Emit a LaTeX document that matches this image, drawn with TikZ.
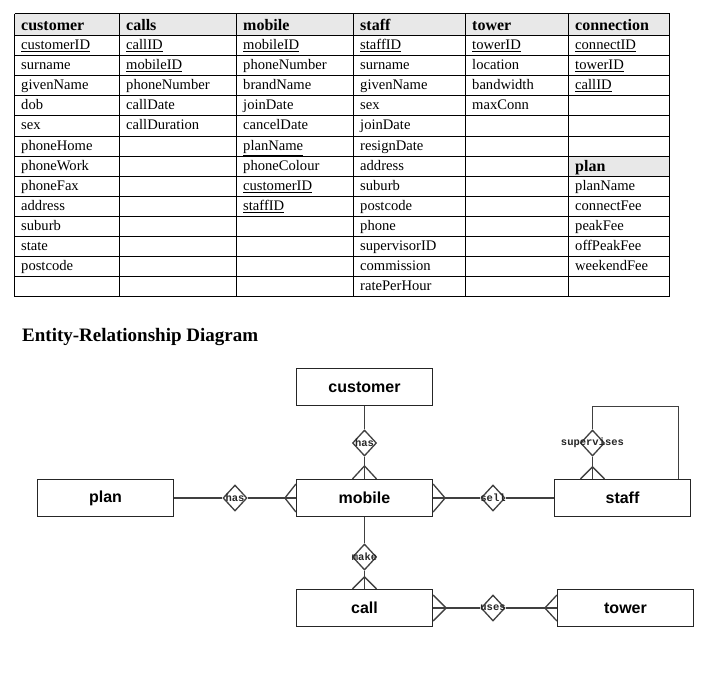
\documentclass[tikz,border=0pt]{standalone}
\usepackage{fontspec}
\setmainfont{Liberation Serif}
\newfontfamily\arialfont{Liberation Sans}
\newfontfamily\courfont{Liberation Mono}
\usetikzlibrary{shapes.geometric,calc}
\begin{document}
\begin{tikzpicture}[x=1pt,y=-1pt,
 cell/.style={anchor=base west,inner sep=0pt,font=\fontsize{14.6}{17}\selectfont},
 headcell/.style={anchor=base west,inner sep=0pt,font=\fontsize{16}{18}\selectfont\bfseries},
 tab/.style={draw=black,line width=1pt},
 entity/.style={draw=black!85,line width=1.2pt,minimum width=136pt,minimum height=37pt,inner sep=0pt,font=\arialfont\bfseries\fontsize{16}{18}\selectfont},
 rel/.style={diamond,draw=black!75,line width=1.3pt,minimum width=24pt,minimum height=26pt,inner sep=0pt,fill=white},
 rellabel/.style={font=\courfont\bfseries\fontsize{10.5}{12}\selectfont,text=black!85,inner sep=0pt},
 conn/.style={draw=black!75,line width=1.3pt}]
\fill[white] (0,0) rectangle (721,675);
\useasboundingbox (0,0) rectangle (721,675);
% ---- table ----
\fill[gray!18] (14.5,13.5) rectangle (669.5,35.5);
\fill[gray!18] (568.5,156.5) rectangle (669.5,176.5);
\foreach \x in {14.5,119.5,236.5,353.5,465.5,568.5,669.5} \draw[tab] (\x,13.5) -- (\x,296.5);
\draw[tab] (14.5,13.5) -- (669.5,13.5);
\foreach \y in {35.5,55.5,75.5,95.5,115.5,136.5,156.5,176.5,196.5,216.5,236.5,256.5,276.5,296.5}
  \draw[tab] (14.5,\y) -- (669.5,\y);
% headers
\node[headcell] (h1) at (21,30.8) {customer};
\node[headcell] (h2) at (126,30.8) {calls};
\node[headcell] (h3) at (243,30.8) {mobile};
\node[headcell] (h4) at (360,30.8) {staff};
\node[headcell] (h5) at (472,30.8) {tower};
\node[headcell] (h6) at (575,30.8) {connection};
\node[headcell] (h7) at (575,171.8) {plan};
% columns
\def\rowbase{{0,49.3,69.3,89.3,109.3,129.8,150.3,170.3,190.3,210.3,230.3,250.3,270.3,290.3}}
\foreach \t [count=\i] in {\underline{customerID},surname,givenName,dob,sex,phoneHome,phoneWork,phoneFax,address,suburb,state,postcode}
  \node[cell] (ca\i) at (21,{\rowbase[\i]}) {\t};
\foreach \t [count=\i] in {\underline{callID},\underline{mobileID},phoneNumber,callDate,callDuration}
  \node[cell] (cb\i) at (126,{\rowbase[\i]}) {\t};
\foreach \t [count=\i] in {\underline{mobileID},phoneNumber,brandName,joinDate,cancelDate,\underline{planName},phoneColour,\underline{customerID},\underline{staffID}}
  \node[cell] (cc\i) at (243,{\rowbase[\i]}) {\t};
\foreach \t [count=\i] in {\underline{staffID},surname,givenName,sex,joinDate,resignDate,address,suburb,postcode,phone,supervisorID,commission,ratePerHour}
  \node[cell] (cd\i) at (360,{\rowbase[\i]}) {\t};
\foreach \t [count=\i] in {\underline{towerID},location,bandwidth,maxConn}
  \node[cell] (ce\i) at (472,{\rowbase[\i]}) {\t};
\foreach \t [count=\i] in {\underline{connectID},\underline{towerID},\underline{callID}}
  \node[cell] (cf\i) at (575,{\rowbase[\i]}) {\t};
\foreach \t [count=\i from 8] in {planName,connectFee,peakFee,offPeakFee,weekendFee}
  \node[cell] (cg\i) at (575,{\rowbase[\i]}) {\t};
% ---- title ----
\node[anchor=base west,inner sep=0pt,font=\bfseries\fontsize{19}{22}\selectfont] (title) at (22,341) {Entity-Relationship Diagram};
% ---- ER diagram ----
\node[entity] (customer) at (364.5,387) {customer};
\node[entity] (mobile) at (364.5,498) {mobile};
\node[entity] (plan) at (105.5,498) {plan};
\node[entity] (staff) at (622.5,498) {staff};
\node[entity] (call) at (364.5,608) {call};
\node[entity] (tower) at (625.5,608) {tower};
\node[rel,label={[rellabel]center:has}] (has1) at (364.5,443) {};
\node[rel,label={[rellabel]center:has}] (has2) at (235,498) {};
\node[rel,label={[rellabel]center:sell}] (sell) at (493,498) {};
\node[rel,label={[rellabel]center:supervises}] (supervises) at (592.5,443) {};
\node[rel,label={[rellabel]center:make}] (make) at (364.5,557) {};
\node[rel,label={[rellabel]center:uses}] (uses) at (493,608) {};
\coordinate (loopR) at (678.5,406.5);
\coordinate (sN) at (supervises |- staff.north);
\draw[conn] (customer) -- (has1) -- (mobile);
\draw[conn] (plan) -- (has2) -- (mobile);
\draw[conn] (mobile.east) -- (sell) -- (sell -| staff.west);
\draw[conn] (supervises) -- (sN);
\draw[conn] (supervises.north) |- (loopR) -- (loopR |- staff.north);
\draw[conn] (mobile) -- (make) -- (call);
\draw[conn] (call.east) -- (uses) -- (uses -| tower.west);
% crow's feet
\draw[conn] ($(mobile.north)+(-12,0)$) -- ($(mobile.north)+(0,-13)$) -- ($(mobile.north)+(12,0)$);
\draw[conn] ($(mobile.west)+(0,-14)$) -- ($(mobile.west)+(-11,0)$) -- ($(mobile.west)+(0,14)$);
\draw[conn] ($(mobile.east)+(0,-14)$) -- ($(mobile.east)+(12,0)$) -- ($(mobile.east)+(0,14)$);
\draw[conn] ($(sN)+(-12,0)$) -- ($(sN)+(0,-12)$) -- ($(sN)+(12,0)$);
\draw[conn] ($(call.north)+(-12,0)$) -- ($(call.north)+(0,-12)$) -- ($(call.north)+(12,0)$);
\draw[conn] ($(call.east)+(0,-13)$) -- ($(call.east)+(13,0)$) -- ($(call.east)+(0,13)$);
\draw[conn] ($(uses -| tower.west)+(0,-13)$) -- ($(uses -| tower.west)+(-12,0)$) -- ($(uses -| tower.west)+(0,13)$);
\end{tikzpicture}
\end{document}
